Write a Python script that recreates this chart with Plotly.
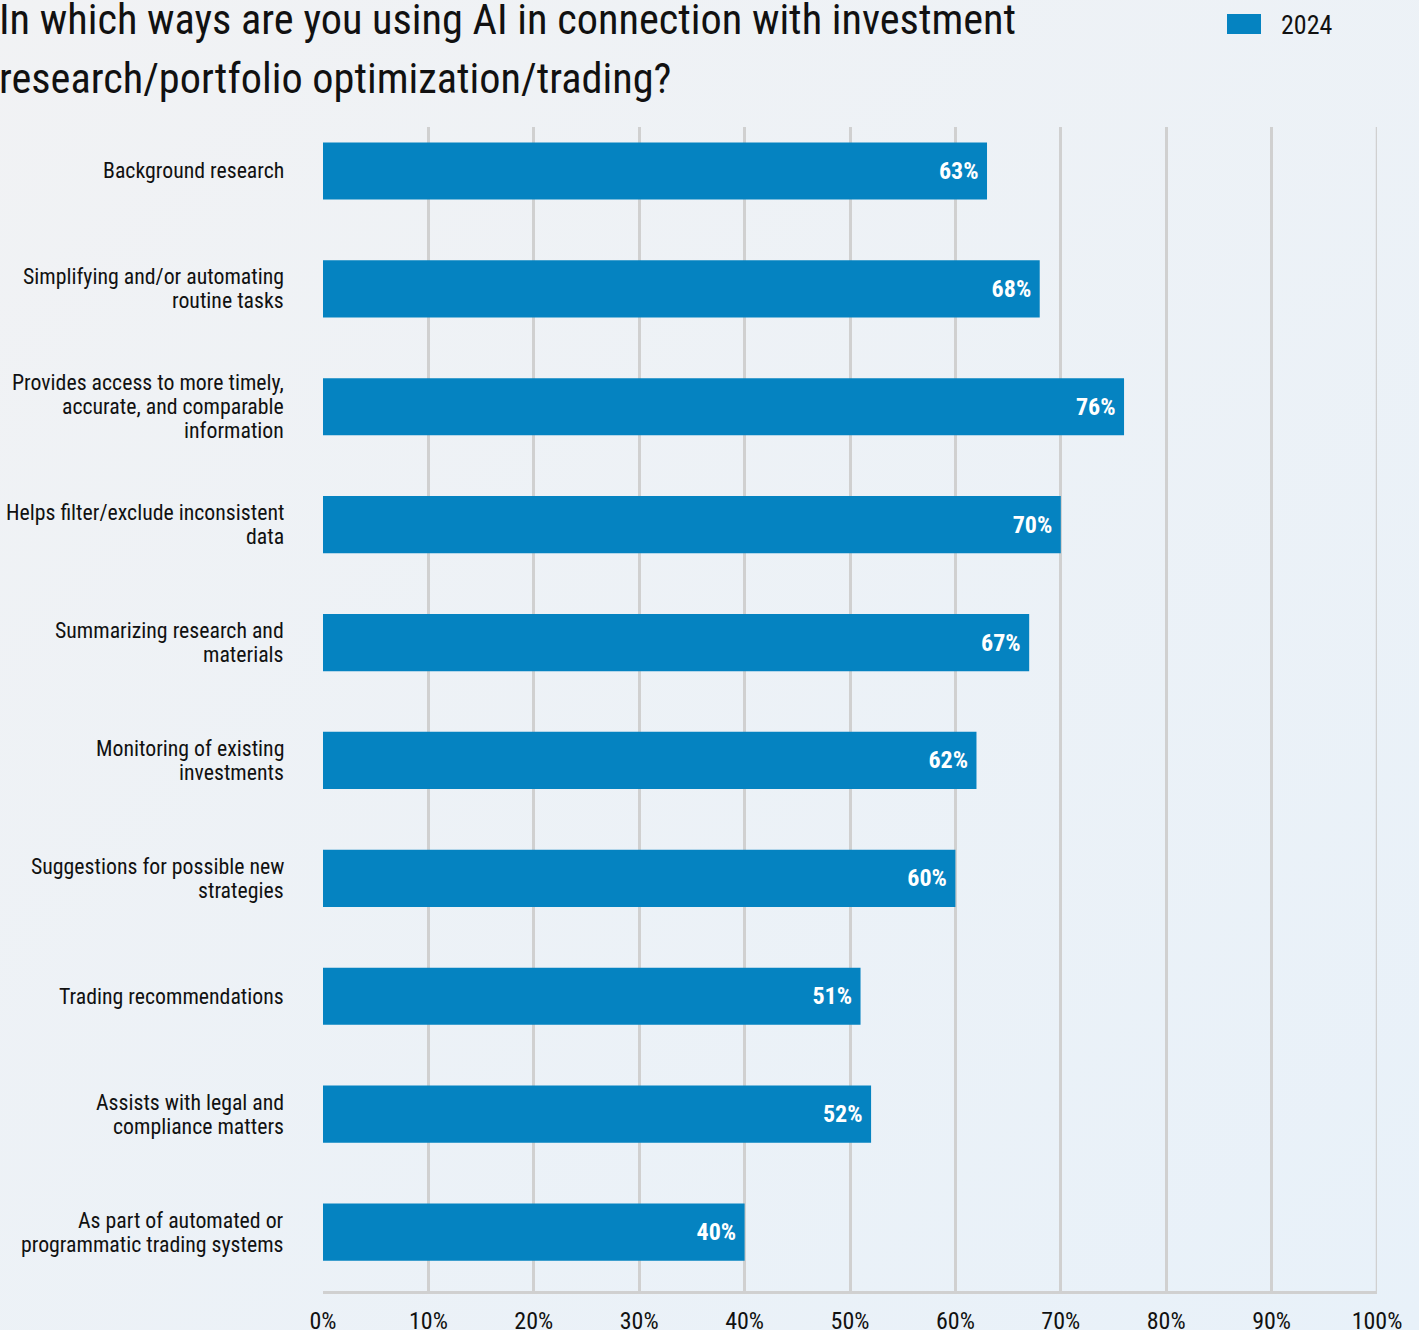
import base64
import plotly.graph_objects as go

# Survey responses, listed top to bottom
categories = [
    "Background research",
    "Simplifying and/or automating<br>routine tasks",
    "Provides access to more timely,<br>accurate, and comparable<br>information",
    "Helps filter/exclude inconsistent<br>data",
    "Summarizing research and<br>materials",
    "Monitoring of existing<br>investments",
    "Suggestions for possible new<br>strategies",
    "Trading recommendations",
    "Assists with legal and<br>compliance matters",
    "As part of automated or<br>programmatic trading systems",
]
values_2024 = [63, 68, 76, 70, 67, 62, 60, 51, 52, 40]
series_name = "2024"
x_ticks = [0, 10, 20, 30, 40, 50, 60, 70, 80, 90, 100]
x_tick_labels = [f"{t}%" for t in x_ticks]

title_lines = [
    "In which ways are you using AI in connection with investment",
    "research/portfolio optimization/trading?",
]

FONT = "Roboto Condensed, Liberation Sans Narrow, DejaVu Sans Condensed, Roboto, sans-serif"
BAR_COLOR = "#0583c1"
GRID_COLOR = "#d0d0d0"
TEXT_COLOR = "#111111"

W, H = 1419, 1330
M_L, M_R, M_T, M_B = 323, 42, 127, 39
PW, PH = W - M_L - M_R, H - M_T - M_B
Y_RANGE = [9.5, -0.373]
LABEL_LINE_GAP = 24


def px_to_paper(px, py):
    return (px - M_L) / PW, (H - M_B - py) / PH


# Soft diagonal background gradient
grad_svg = (
    f'<svg xmlns="http://www.w3.org/2000/svg" width="{W}" height="{H}">'
    '<defs><linearGradient id="g" x1="0" y1="0" x2="1" y2="1">'
    '<stop offset="0" stop-color="#f1f2f4"/><stop offset="1" stop-color="#e8f1f9"/>'
    '</linearGradient></defs>'
    f'<rect width="{W}" height="{H}" fill="url(#g)"/></svg>'
)
grad_uri = "data:image/svg+xml;base64," + base64.b64encode(grad_svg.encode()).decode()

fig = go.Figure()
fig.add_trace(go.Bar(
    x=values_2024,
    y=categories,
    orientation="h",
    name=series_name,
    marker=dict(color=BAR_COLOR, line=dict(width=0)),
    text=[f"{v}%\u00a0" for v in values_2024],
    texttemplate="%{text}",
    textposition="inside",
    insidetextanchor="end",
    textangle=0,
    textfont=dict(family=FONT, size=24, color="white", weight="bold"),
    showlegend=False,
    hoverinfo="skip",
))

img_x, img_y = px_to_paper(0, 0)
fig.add_layout_image(dict(
    source=grad_uri, xref="paper", yref="paper",
    x=img_x, y=img_y, sizex=W / PW, sizey=H / PH,
    xanchor="left", yanchor="top", sizing="stretch", layer="below",
))

# Title, one annotation per line
for line, cy in zip(title_lines, [19, 79]):
    ax, ay = px_to_paper(-3, cy)
    fig.add_annotation(
        text=line, xref="paper", yref="paper", x=ax, y=ay,
        xanchor="left", yanchor="middle", showarrow=False,
        font=dict(family=FONT, size=42.3, color=TEXT_COLOR),
    )

# Category labels, right-aligned left of the plot with tight line spacing
label_x, _ = px_to_paper(286, 0)
for idx, cat in enumerate(categories):
    lines = cat.split("<br>")
    n = len(lines)
    for j, ln in enumerate(lines):
        fig.add_annotation(
            text=ln, xref="paper", yref="y", x=label_x, y=idx,
            yshift=-(j - (n - 1) / 2) * LABEL_LINE_GAP,
            xanchor="right", yanchor="middle", showarrow=False,
            font=dict(family=FONT, size=21.8, color=TEXT_COLOR),
        )

# Right-hand boundary gridline at 100%
fig.add_shape(type="line", xref="x", yref="paper", x0=100, x1=100, y0=0, y1=1,
              line=dict(color=GRID_COLOR, width=2.5), layer="below")

# Legend swatch and label
sx0, sy0 = px_to_paper(1227, 14)
sx1, sy1 = px_to_paper(1261, 34)
fig.add_shape(type="rect", xref="paper", yref="paper", x0=sx0, y0=sy1, x1=sx1, y1=sy0,
              fillcolor=BAR_COLOR, line=dict(width=0))
lx, ly = px_to_paper(1279, 25)
fig.add_annotation(text=series_name, xref="paper", yref="paper", x=lx, y=ly,
                   xanchor="left", yanchor="middle", showarrow=False,
                   font=dict(family=FONT, size=26, color=TEXT_COLOR))

fig.update_layout(
    width=W, height=H,
    margin=dict(l=M_L, r=M_R, t=M_T, b=M_B, autoexpand=False),
    paper_bgcolor="#eef1f5",
    plot_bgcolor="rgba(0,0,0,0)",
    bargap=0.515,
    font=dict(family=FONT, color=TEXT_COLOR),
    xaxis=dict(
        range=[0, 100], tickvals=x_ticks, ticktext=x_tick_labels,
        showgrid=True, gridcolor=GRID_COLOR, gridwidth=2.5,
        zeroline=False, showline=True, linecolor=GRID_COLOR, linewidth=3,
        ticks="", ticklabelstandoff=6,
        tickfont=dict(family=FONT, size=24, color=TEXT_COLOR),
        fixedrange=True,
    ),
    yaxis=dict(
        type="category", categoryorder="array", categoryarray=categories,
        range=Y_RANGE,
        showgrid=False, zeroline=False, showline=False, ticks="",
        showticklabels=False,
        fixedrange=True,
    ),
)

fig.write_html("out.html")
